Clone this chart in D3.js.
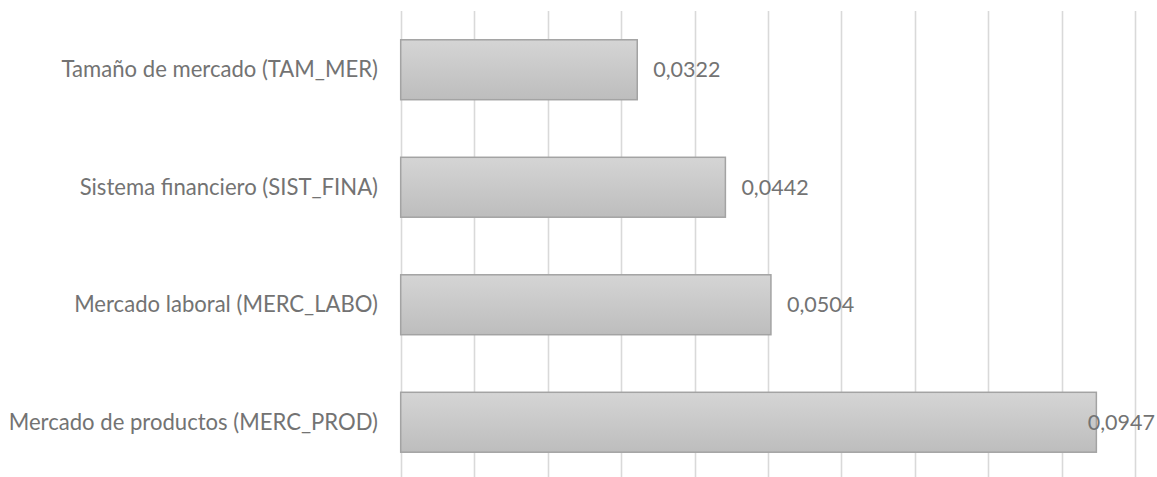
<!DOCTYPE html>
<html>
<head>
<meta charset="utf-8">
<script src="https://cdn.jsdelivr.net/npm/d3@7"></script>
<style>
  html, body { margin: 0; padding: 0; background: #fff; }
  svg { display: block; }
  text { font-family: Lato, "Open Sans", sans-serif; fill: #737373; }
</style>
</head>
<body>
<svg id="chart" width="1157" height="477"></svg>
<script>
const categories = [
  "Tamaño de mercado (TAM_MER)",
  "Sistema financiero (SIST_FINA)",
  "Mercado laboral (MERC_LABO)",
  "Mercado de productos (MERC_PROD)"
];
const values = [0.0322, 0.0442, 0.0504, 0.0947];
const valueLabels = ["0,0322", "0,0442", "0,0504", "0,0947"];
const gridTicks = [0, 0.01, 0.02, 0.03, 0.04, 0.05, 0.06, 0.07, 0.08, 0.09, 0.1];

const W = 1157, H = 477;
const svg = d3.select("#chart");

const x = d3.scaleLinear().domain([0, 0.1]).range([400.7, 1135.3]);
const y = d3.scaleBand().domain(categories).range([11, 481]).paddingInner(0.49).paddingOuter(0.245);

const defs = svg.append("defs");
const grad = defs.append("linearGradient").attr("id", "barGrad")
  .attr("x1", 0).attr("y1", 0).attr("x2", 0).attr("y2", 1);
grad.append("stop").attr("offset", "0%").attr("stop-color", "#d5d5d5");
grad.append("stop").attr("offset", "100%").attr("stop-color", "#bdbdbd");

// gridlines
svg.append("g").selectAll("line").data(gridTicks).join("line")
  .attr("x1", d => Math.round(x(d)) + 0.5)
  .attr("x2", d => Math.round(x(d)) + 0.5)
  .attr("y1", 11).attr("y2", H)
  .attr("stroke", "#d9d9d9").attr("stroke-width", 1.6);

// bars
svg.append("g").selectAll("rect").data(values).join("rect")
  .attr("x", x(0))
  .attr("y", (d, i) => y(categories[i]))
  .attr("width", d => x(d) - x(0))
  .attr("height", y.bandwidth())
  .attr("fill", "url(#barGrad)")
  .attr("stroke", "#a3a3a3").attr("stroke-width", 1.5);

// category labels
svg.append("g").selectAll("text").data(categories).join("text")
  .attr("x", 378)
  .attr("y", d => y(d) + y.bandwidth() / 2)
  .attr("dy", "0.35em")
  .attr("text-anchor", "end")
  .attr("font-size", 22.1)
  .text(d => d);

// value labels
svg.append("g").selectAll("text").data(values).join("text")
  .attr("y", (d, i) => y(categories[i]) + y.bandwidth() / 2)
  .attr("dy", "0.35em")
  .attr("font-size", 21.5)
  .text((d, i) => valueLabels[i])
  .attr("x", function(d) {
    const w = this.getComputedTextLength();
    return Math.min(x(d) + 16, W - w - 2);
  });
</script>
</body>
</html>
